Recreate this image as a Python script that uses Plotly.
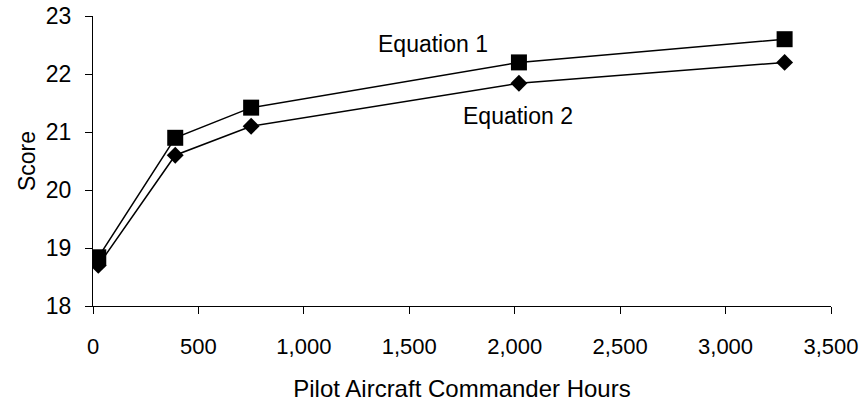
import plotly.graph_objects as go

hours = [25, 390, 750, 2020, 3280]
equation1 = [18.84, 20.9, 21.42, 22.2, 22.6]
equation2 = [18.7, 20.6, 21.1, 21.84, 22.2]
x_ticks = [0, 500, 1000, 1500, 2000, 2500, 3000, 3500]
x_tick_labels = ["0", "500", "1,000", "1,500", "2,000", "2,500", "3,000", "3,500"]
y_ticks = [18, 19, 20, 21, 22, 23]

FONT = "Liberation Sans, Arial, sans-serif"
FS = 23

fig = go.Figure()
fig.add_trace(go.Scatter(x=hours, y=equation1, mode="lines+markers", name="Equation 1",
                         line=dict(color="black", width=1.5),
                         marker=dict(symbol="square", size=16, color="black")))
fig.add_trace(go.Scatter(x=hours, y=equation2, mode="lines+markers", name="Equation 2",
                         line=dict(color="black", width=1.5),
                         marker=dict(symbol="diamond", size=13, color="black")))

fig.add_annotation(x=1612, y=22.52, text="Equation 1", showarrow=False,
                   font=dict(family=FONT, size=FS, color="black"))
fig.add_annotation(x=2015, y=21.27, text="Equation 2", showarrow=False,
                   font=dict(family=FONT, size=FS, color="black"))

axis_common = dict(showgrid=False, zeroline=False, showline=True, linecolor="black",
                   linewidth=1.2, ticks="outside", ticklen=7, tickcolor="black",
                   tickwidth=1.2, automargin=False, ticklabeloverflow="allow")

fig.update_layout(
    width=862, height=404,
    margin=dict(l=93, r=31, t=16, b=98),
    paper_bgcolor="white", plot_bgcolor="white",
    showlegend=False,
    font=dict(family=FONT, size=FS, color="black"),
    xaxis=dict(range=[0, 3500], tickvals=x_ticks, ticktext=x_tick_labels,
               ticklabelstandoff=13, tickfont=dict(size=22),
               title=dict(text="Pilot Aircraft Commander Hours", standoff=22,
                          font=dict(family=FONT, size=24)),
               **axis_common),
    yaxis=dict(range=[18, 23], tickvals=y_ticks, ticklabelstandoff=9,
               title=dict(text="Score", standoff=3, font=dict(family=FONT, size=FS)),
               **axis_common),
    xaxis2=dict(overlaying="x", matches="x", anchor="y", side="bottom", range=[0, 3500],
                tickvals=x_ticks, showticklabels=False, showgrid=False, zeroline=False,
                ticks="inside", ticklen=7, tickcolor="black", tickwidth=1.2,
                automargin=False),
    yaxis2=dict(overlaying="y", matches="y", anchor="x", side="left", range=[18, 23],
                tickvals=y_ticks, showticklabels=False, showgrid=False, zeroline=False,
                ticks="inside", ticklen=7, tickcolor="black", tickwidth=1.2,
                automargin=False),
)

fig.write_html("out.html", config={"displayModeBar": False},
               post_script="document.body.style.margin='0px';")
